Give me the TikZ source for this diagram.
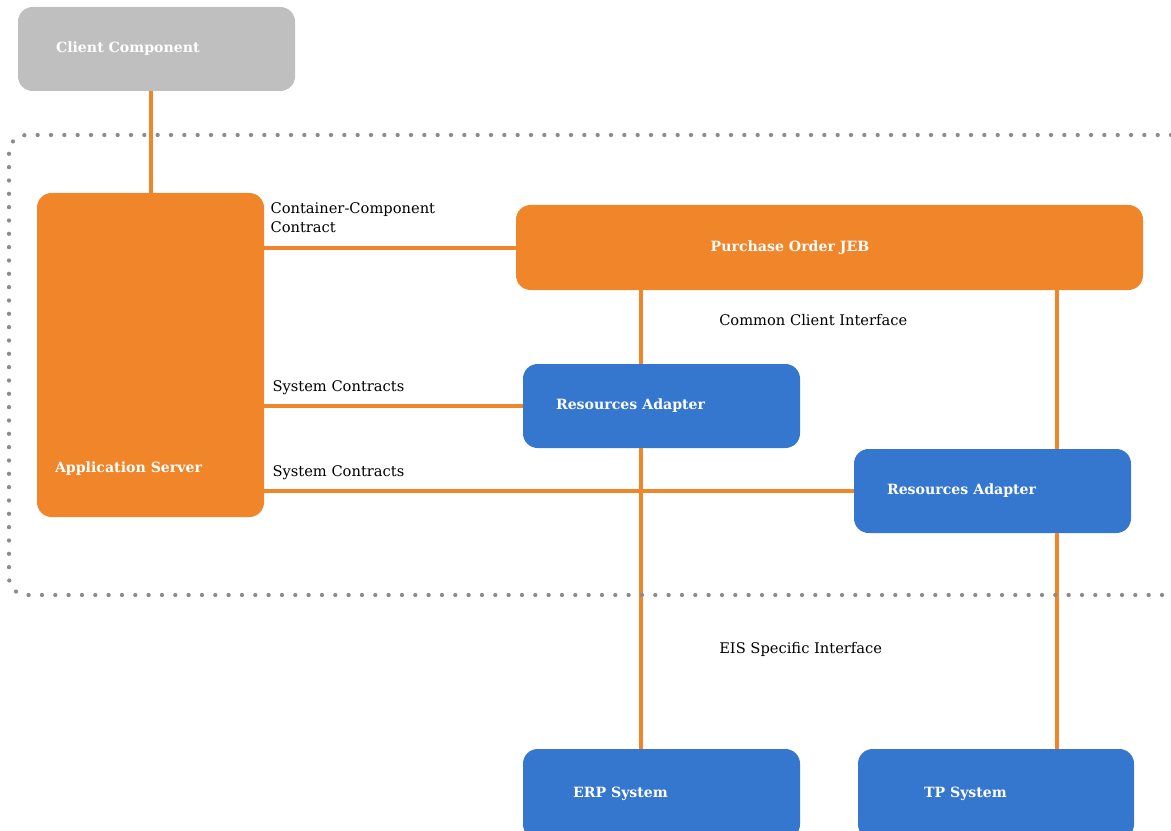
\documentclass[tikz,border=0pt]{standalone}
\usepackage{fontspec}
\setmainfont{DejaVu Serif}
\usetikzlibrary{positioning}

\definecolor{jeborange}{HTML}{F1852A}
\definecolor{adapterblue}{HTML}{3576CE}
\definecolor{clientgray}{HTML}{BFBFBF}
\definecolor{framegray}{HTML}{8C8C8C}

\tikzset{
  block/.style={rectangle, rounded corners=11pt, inner sep=0pt, minimum width=207.75pt, minimum height=63pt},
  blocktext/.style={text=white, font=\bfseries\fontsize{10.6}{12}\selectfont, inner sep=0pt, anchor=west},
  wire/.style={draw=jeborange, line width=3pt},
  caption/.style={font=\fontsize{11}{14.2}\selectfont, inner sep=0pt, anchor=west, align=left},
  frame/.style={draw=framegray, line width=3.2pt, line cap=round, dash pattern=on 0pt off 10pt, rounded corners=13pt}
}

\begin{document}
\begin{tikzpicture}[x=0.75pt, y=-0.75pt]
        \useasboundingbox (0,0) rectangle (1171,831);

        % boxes
        \node [block, fill=clientgray] (client) at (156.5,49) {};
        \node [block, fill=jeborange, minimum width=170.25pt, minimum height=243pt] (appserver) at (150.5,355) {};
        \node [block, fill=jeborange, minimum width=470.25pt, minimum height=63.75pt] (order) at (829.5,247.5) {};
        \node [block, fill=adapterblue] (adapterA) at (661.5,406) {};
        \node [block, fill=adapterblue] (adapterB) at (992.5,491) {};
        \node [block, fill=adapterblue, minimum height=67.5pt] (erp) at (661.5,794) {};
        \node [block, fill=adapterblue, minimum height=67.5pt, minimum width=207pt] (tp) at (996,794) {};

        % box texts
        \node [blocktext, right=28.5pt of client.west] (clienttext) {Client Component};
        \node [blocktext] (apptext) at ([shift={(18,-49)}]appserver.south west) {Application Server};
        \node [blocktext, anchor=center] (ordertext) at ([xshift=-29.6pt]order.center) {Purchase Order JEB};
        \node [blocktext, right=24.75pt of adapterA.west] (adapterAtext) {Resources Adapter};
        \node [blocktext, right=24.75pt of adapterB.west] (adapterBtext) {Resources Adapter};
        \node [blocktext, right=37.5pt of erp.west] (erptext) {ERP System};
        \node [blocktext, right=49.5pt of tp.west] (tptext) {TP System};

        % connectors
        \draw [wire] (appserver.north) -- (appserver.north |- client.south);
        \draw [wire] (order.west) -- (order.west -| appserver.east);
        \draw [wire] (adapterA.west) -- (adapterA.west -| appserver.east);
        \draw [wire] (adapterB.west) -- (adapterB.west -| appserver.east);
        \draw [wire] ([xshift=88.5pt]adapterA.north west) -- ([xshift=88.5pt]adapterA.north west |- order.south);
        \draw [wire] ([xshift=88.5pt]adapterA.south west) -- ([xshift=88.5pt]adapterA.south west |- erp.north);
        \draw [wire] ([xshift=152.25pt]adapterB.north west) -- ([xshift=152.25pt]adapterB.north west |- order.south);
        \draw [wire] ([xshift=152.25pt]adapterB.south west) -- ([xshift=152.25pt]adapterB.south west |- tp.north);

        % connector labels
        \node [caption] (cclabel) at ([shift={(6,-29.5)}]order.west -| appserver.east) {Container-Component\\Contract};
        \node [caption] (syslabelA) at ([shift={(8,-18)}]adapterA.west -| appserver.east) {System Contracts};
        \node [caption] (syslabelB) at ([shift={(8,-18)}]adapterB.west -| appserver.east) {System Contracts};
        \node [caption] (ccilabel) at (719,320) {Common Client Interface};
        \node [caption] (eislabel) at (719,649) {EIS Specific Interface};

        % container frame
        \draw [frame] (1171,135) -- (9,135) -- (9,595) -- (1171,595);
    \end{tikzpicture}
\end{document}
